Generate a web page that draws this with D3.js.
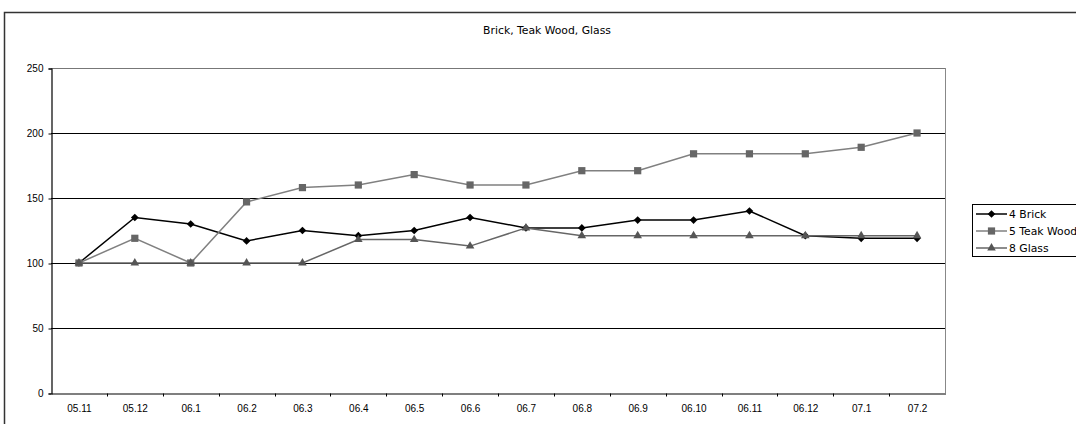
<!DOCTYPE html>
<html>
<head>
<meta charset="utf-8">
<script src="https://cdn.jsdelivr.net/npm/d3@7/dist/d3.min.js"></script>
<style>
  html, body { margin: 0; padding: 0; background: #fff; }
  svg { display: block; font-family: "Liberation Sans", Arial, sans-serif; }
</style>
</head>
<body>
<svg id="chart" width="1076" height="424"></svg>
<script>
// Monthly index values (05.11 = 100)
const months = ["05.11", "05.12", "06.1", "06.2", "06.3", "06.4", "06.5", "06.6",
                "06.7", "06.8", "06.9", "06.10", "06.11", "06.12", "07.1", "07.2"];
const brick    = [100, 135, 130, 117, 125, 121, 125, 135, 127, 127, 133, 133, 140, 121, 119, 119];
const teakWood = [100, 119, 100, 147, 158, 160, 168, 160, 160, 171, 171, 184, 184, 184, 189, 200];
const glass    = [100, 100, 100, 100, 100, 118, 118, 113, 127, 121, 121, 121, 121, 121, 121, 121];
const yTicks = [0, 50, 100, 150, 200, 250];
const seriesNames = ["4 Brick", "5 Teak Wood", "8 Glass"];

const series = [
  { name: seriesNames[0], values: brick,    line: "#000000", fill: "#000000", symbol: d3.symbolSquare,   size: 30, rotate: 45 },
  { name: seriesNames[1], values: teakWood, line: "#808080", fill: "#666666", symbol: d3.symbolSquare,   size: 52, rotate: 0 },
  { name: seriesNames[2], values: glass,    line: "#666666", fill: "#555555", symbol: d3.symbolTriangle, size: 32, rotate: 0 }
];

const svg = d3.select("#chart");
const textFont = "'DejaVu Sans', 'Liberation Sans', sans-serif";

// Outer chart frame
svg.append("rect")
  .attr("x", 4.5).attr("y", 12.5)
  .attr("width", 1100).attr("height", 440)
  .attr("fill", "#fff").attr("stroke", "#333").attr("stroke-width", 1.5);

const plot = { left: 51, right: 945, top: 68, bottom: 393 };

const x = d3.scaleBand().domain(months).range([plot.left, plot.right]);
const y = d3.scaleLinear().domain([0, 250]).range([plot.bottom, plot.top]);

// Title
svg.append("text")
  .attr("x", 547).attr("y", 34)
  .attr("text-anchor", "middle")
  .attr("font-size", 10.8)
  .attr("font-family", textFont)
  .attr("fill", "#000")
  .text("Brick, Teak Wood, Glass");

// Plot area right border
svg.append("line")
  .attr("x1", plot.right + 0.5).attr("x2", plot.right + 0.5)
  .attr("y1", plot.top).attr("y2", plot.bottom)
  .attr("stroke", "#888").attr("stroke-width", 1);

// Horizontal gridlines
svg.append("g")
  .selectAll("line")
  .data(yTicks.filter(d => d > 0))
  .join("line")
  .attr("x1", plot.left).attr("x2", plot.right)
  .attr("y1", d => Math.round(y(d)) + 0.5)
  .attr("y2", d => Math.round(y(d)) + 0.5)
  .attr("stroke", d => d === 250 ? "#777" : "#000")
  .attr("stroke-width", 1);

// Y axis
const yAxis = svg.append("g")
  .attr("transform", `translate(${plot.left + 0.5},0.5)`)
  .call(d3.axisLeft(y).tickValues(yTicks).tickSize(3).tickPadding(5));
yAxis.select(".domain").attr("stroke", "#000").attr("stroke-width", 1.2);
yAxis.selectAll("text").attr("font-size", 10).attr("font-family", "Liberation Sans, Arial, sans-serif").attr("fill", "#000");

// X axis: labels centred on categories, ticks on category boundaries
const xAxis = svg.append("g")
  .attr("transform", `translate(0.5,${plot.bottom + 0.5})`)
  .call(d3.axisBottom(x).tickSize(0).tickPadding(11));
xAxis.select(".domain").attr("stroke", "#000").attr("stroke-width", 1.2);
xAxis.selectAll("text").attr("font-size", 10).attr("font-family", "Liberation Sans, Arial, sans-serif").attr("fill", "#000");
xAxis.selectAll(".bound")
  .data(months.slice(1))
  .join("line")
  .attr("class", "bound")
  .attr("x1", d => Math.round(x(d))).attr("x2", d => Math.round(x(d)))
  .attr("y1", 0).attr("y2", 3)
  .attr("stroke", "#000");

const cx = d => x(d) + x.bandwidth() / 2;

// Series lines and markers
series.forEach(s => {
  const pts = months.map((m, i) => [cx(m), y(s.values[i])]);
  svg.append("path")
    .attr("d", d3.line()(pts))
    .attr("fill", "none")
    .attr("stroke", s.line)
    .attr("stroke-width", 1.5);
  svg.append("g")
    .selectAll("path")
    .data(pts)
    .join("path")
    .attr("transform", d => `translate(${d[0]},${d[1]}) rotate(${s.rotate})`)
    .attr("d", d3.symbol().type(s.symbol).size(s.size))
    .attr("fill", s.fill);
});

// Legend
const legend = svg.append("g");
legend.append("rect")
  .attr("x", 972.5).attr("y", 204.5)
  .attr("width", 120).attr("height", 52)
  .attr("fill", "#fff").attr("stroke", "#000").attr("stroke-width", 1);
series.forEach((s, i) => {
  const ly = 214 + i * 17;
  legend.append("line")
    .attr("x1", 976).attr("x2", 1007)
    .attr("y1", ly).attr("y2", ly)
    .attr("stroke", s.line).attr("stroke-width", 1.5);
  legend.append("path")
    .attr("transform", `translate(991.5,${ly}) rotate(${s.rotate})`)
    .attr("d", d3.symbol().type(s.symbol).size(s.size))
    .attr("fill", s.fill);
  legend.append("text")
    .attr("x", 1009).attr("y", ly + 4)
    .attr("font-size", 10.8)
    .attr("font-family", textFont)
    .attr("fill", "#000")
    .text(s.name);
});
</script>
</body>
</html>
